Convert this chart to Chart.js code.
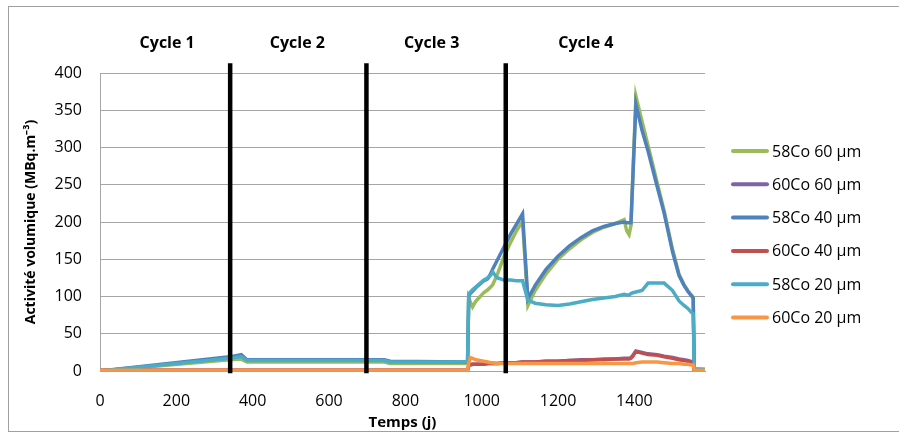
<!DOCTYPE html>
<html><head><meta charset="utf-8">
<script src="https://cdn.jsdelivr.net/npm/chart.js@4/dist/chart.umd.min.js"></script>
<style>html,body{margin:0;padding:0;background:#fff;}canvas{display:block;}</style>
</head><body>
<canvas id="c" width="899" height="433"></canvas>
<script>
// ---- data ----
const days = [0,340,370,385,745,760, 963,966,970,976,985, 1005,1016,1024,1029,1037, 1042,1058,1076,1090,1107, 1121,1140,1168,1200,1230, 1260,1290,1320,1350,1373, 1380,1386,1391,1396,1404, 1420,1436,1460,1478,1500, 1517,1530,1540,1549,1554, 1557,1585];

const co58_60um = [0,15,16,12,12,10, 10,98,93,86,94, 105,109,113,116,125, 131,153,173,187,201, 88,108,130,150,164, 176,186,193,198,203, 188,183,195,262,369, 335,302,252,215,163, 130,116,108,102,99, 2,2];
const co60_60um = [1,1,1,1,1,1, 1,7,8,9,9, 9,10,10,10,10, 10,11,11,11,12, 12,12,13,13,14, 15,15,16,16,17, 17,17,18,21,27, 25,23,22,20,18, 16,15,14,13,12, 0,0];
const co58_40um = [0,19,22,15,15,13, 12,100,104,107,112, 121,124,131,137,145, 150,166,184,196,211, 97,115,136,154,168, 179,188,194,198,200, 199,199,199,260,358, 323,295,247,212,160, 128,115,107,101,98, 2,2];
const co60_40um = [1,1,1,1,1,1, 1,7,9,9,9, 9,10,10,10,10, 10,11,11,11,12, 12,12,13,13,14, 14,15,15,16,16, 16,16,17,20,26, 24,22,21,19,17, 15,14,13,12,11, 0,0];
const co58_20um = [0,17,19,14,14,12, 12,103,106,109,113, 122,125,129,133,127, 125,122,122,121,121, 95,91,89,88,90, 93,96,98,100,103, 102,102,104,105,106, 108,118,118,118,108, 94,88,84,79,77, 3,2];
const co60_20um = [1,1,1,1,1,1, 1,10,18,17,15, 13,12,11,11,10, 10,10,10,10,10, 10,10,10,10,10, 10,10,10,10,10, 10,10,10,10,11, 12,12,12,11,10, 10,9,9,8,8, 1,1];

const seriesNames = ['58Co 60 µm','60Co 60 µm','58Co 40 µm','60Co 40 µm','58Co 20 µm','60Co 20 µm'];
const seriesValues = [co58_60um, co60_60um, co58_40um, co60_40um, co58_20um, co60_20um];
const seriesColors = ['#9BBB59','#8064A2','#4F81BD','#C0504D','#4BACC6','#F79646'];
const seriesOrder = [6,5,4,3,2,1];

const cycleBounds = [341, 698, 1063];          // days of the black separators
const cycleBoundRange = [-3, 413];             // vertical extent (value units)
const cycleNames = ['Cycle 1','Cycle 2','Cycle 3','Cycle 4'];
const cycleNameDays = [176, 517, 869, 1273];

const xTicks = [0, 200, 400, 600, 800, 1000, 1200, 1400];
const xMax = 1585;
const yTickStep = 50, yMax = 400;

const FONT = "'Open Sans', 'Liberation Sans', sans-serif";

// ---- datasets ----
const datasets = seriesNames.map((name, i) => ({
  label: name,
  data: days.map((d, k) => ({x: d, y: seriesValues[i][k]})),
  borderColor: seriesColors[i],
  backgroundColor: seriesColors[i],
  borderWidth: 3.5,
  pointRadius: 0,
  tension: 0,
  fill: false,
  order: seriesOrder[i]
}));
cycleBounds.forEach((d) => {
  datasets.push({
    label: '_sep',
    data: cycleBoundRange.map(v => ({x: d, y: v})),
    borderColor: '#000',
    borderWidth: 4.5,
    borderCapStyle: 'butt',
    pointRadius: 0,
    clip: false,
    order: 0
  });
});

// ---- plugins ----
const framePlugin = {
  id: 'frame',
  beforeDraw(chart) {
    const ctx = chart.ctx;
    ctx.save();
    ctx.fillStyle = '#fff';
    ctx.fillRect(0, 0, chart.width, chart.height);
    ctx.strokeStyle = '#A0A0A0';
    ctx.lineWidth = 1;
    ctx.strokeRect(8.5, 6.5, chart.width + 10, 425);
    ctx.restore();
  }
};

const cyclePlugin = {
  id: 'cycleNames',
  afterDraw(chart) {
    const ctx = chart.ctx, xs = chart.scales.x, a = chart.chartArea;
    ctx.save();
    ctx.font = "bold 16px " + FONT;
    ctx.fillStyle = '#000';
    ctx.textAlign = 'center';
    ctx.textBaseline = 'middle';
    cycleNames.forEach((n, i) => ctx.fillText(n, xs.getPixelForValue(cycleNameDays[i]), a.top - 30));
    ctx.restore();
  }
};

const legendPlugin = {
  id: 'sideLegend',
  afterDraw(chart) {
    const ctx = chart.ctx, a = chart.chartArea;
    ctx.save();
    ctx.font = "16px " + FONT;
    ctx.textBaseline = 'middle';
    ctx.textAlign = 'left';
    seriesNames.forEach((n, i) => {
      const y = a.top + 78 + i * 33.3;
      ctx.strokeStyle = seriesColors[i];
      ctx.lineWidth = 4;
      ctx.lineCap = 'round';
      ctx.beginPath();
      ctx.moveTo(a.right + 28, y);
      ctx.lineTo(a.right + 62, y);
      ctx.stroke();
      ctx.fillStyle = '#000';
      ctx.fillText(n, a.right + 67, y + 1);
    });
    ctx.restore();
  }
};

new Chart(document.getElementById('c'), {
  type: 'line',
  data: { datasets },
  options: {
    responsive: false,
    devicePixelRatio: 1,
    animation: false,
    layout: { padding: { top: 73, right: 194, left: 10, bottom: 0 } },
    plugins: { legend: { display: false }, tooltip: { enabled: false } },
    scales: {
      x: {
        type: 'linear', min: 0, max: xMax, bounds: 'data',
        afterBuildTicks(s) { s.ticks = xTicks.map(v => ({ value: v })); },
        ticks: { maxRotation: 0, autoSkip: false, color: '#000', padding: 21, font: { family: FONT, size: 16 }, callback: v => String(v) },
        grid: { display: false, drawTicks: false },
        border: { display: true, color: '#A6A6A6', width: 1 },
        title: { display: true, text: 'Temps (j)', color: '#000', font: { family: FONT, size: 15, weight: 'bold' }, padding: { top: 0, bottom: 1 } },
        afterFit(s) { s.height = 62; }
      },
      y: {
        min: 0, max: yMax,
        ticks: { stepSize: yTickStep, color: '#000', padding: 18, font: { family: FONT, size: 16 } },
        grid: { color: '#A6A6A6', lineWidth: 1, drawTicks: false },
        border: { display: true, color: '#A6A6A6', width: 1 },
        title: { display: true, text: 'Activité volumique (MBq.m⁻³)', color: '#000', font: { family: FONT, size: 14, weight: 'bold' }, padding: { top: 13, bottom: 0 } },
        afterFit(s) { s.width = 90; }
      }
    }
  },
  plugins: [framePlugin, cyclePlugin, legendPlugin]
});
</script>
</body></html>
